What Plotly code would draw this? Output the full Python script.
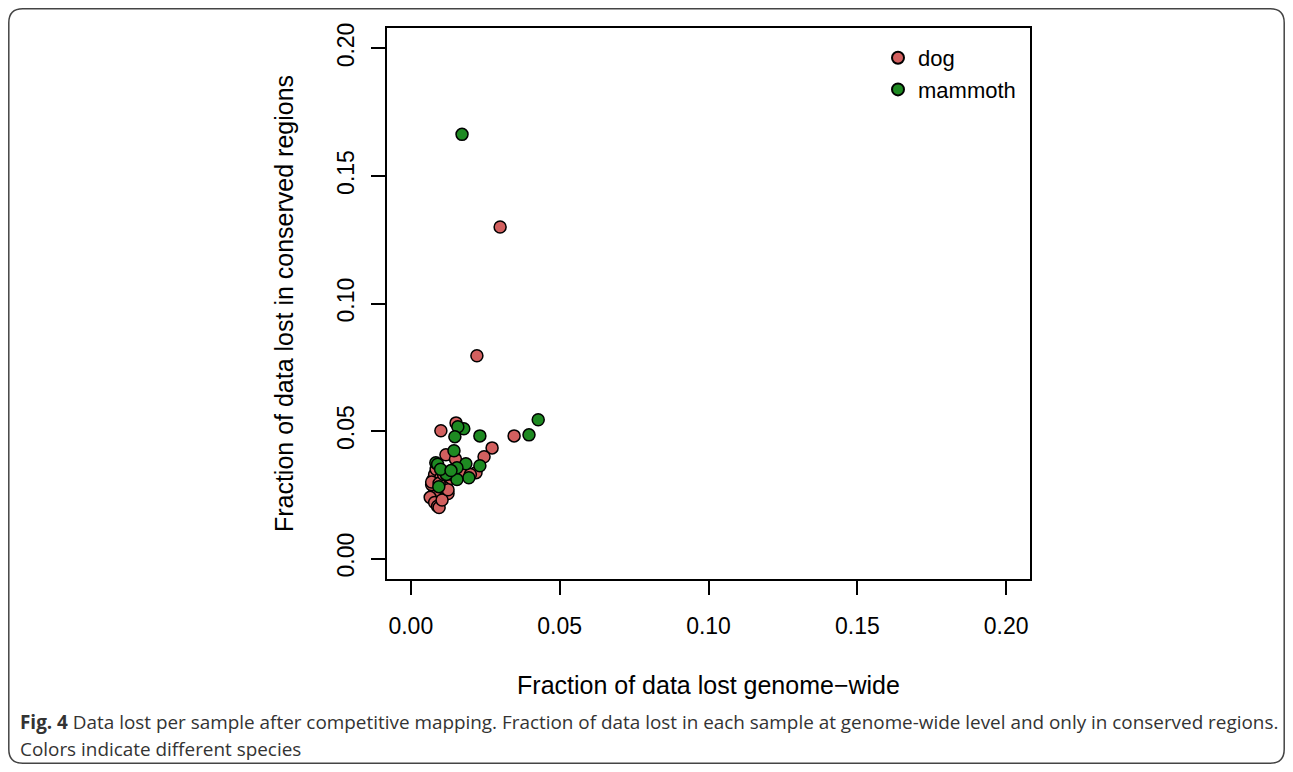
import plotly.graph_objects as go

# ---- data ----
dog_x = [0.0101, 0.0152, 0.0222, 0.0300, 0.0347, 0.0273, 0.0246, 0.0219, 0.0118, 0.0150,
         0.0160, 0.0130, 0.0120, 0.0110, 0.0125, 0.0100, 0.0090, 0.0080, 0.0070, 0.0075,
         0.0080, 0.0065, 0.0080, 0.0090, 0.0095, 0.0105, 0.0085, 0.0100, 0.0140, 0.0125,
         0.0070, 0.0095, 0.0110, 0.0180, 0.0200]
dog_y = [0.0501, 0.0532, 0.0795, 0.1300, 0.0481, 0.0434, 0.0399, 0.0337, 0.0407, 0.0390,
         0.0350, 0.0340, 0.0300, 0.0280, 0.0255, 0.0270, 0.0240, 0.0260, 0.0290, 0.0310,
         0.0330, 0.0240, 0.0220, 0.0205, 0.0200, 0.0230, 0.0350, 0.0315, 0.0330, 0.0270,
         0.0300, 0.0295, 0.0330, 0.0340, 0.0330]
mam_x = [0.0172, 0.0428, 0.0397, 0.0232, 0.0232, 0.0195, 0.0185, 0.0155, 0.0155, 0.0145,
         0.0178, 0.0158, 0.0148, 0.0084, 0.0118, 0.0094, 0.0090, 0.0120, 0.0100, 0.0135]
mam_y = [0.1663, 0.0544, 0.0485, 0.0481, 0.0364, 0.0317, 0.0372, 0.0310, 0.0356, 0.0423,
         0.0509, 0.0517, 0.0478, 0.0376, 0.0333, 0.0282, 0.0370, 0.0330, 0.0350, 0.0345]
tick_vals = [0.0, 0.05, 0.10, 0.15, 0.20]
tick_text = ["0.00", "0.05", "0.10", "0.15", "0.20"]

DOG = "#D2605F"
MAM = "#1E8A22"
OFF = 8  # page body margin
W, H = 1285, 764
# target screen pixels of the plot box
BL, BR, BT, BB = 387, 1030, 28, 579
ML, MR, MT, MB = BL - OFF, W - (BR - OFF), BT - OFF, H - (BB - OFF)


def px(x):
    return (x - OFF - ML) / (W - ML - MR)


def py(y):
    return (H - MB - (y - OFF)) / (H - MT - MB)


fig = go.Figure()
fig.add_trace(go.Scatter(x=dog_x, y=dog_y, mode="markers", name="dog",
                         marker=dict(color=DOG, size=12, line=dict(color="black", width=1.5))))
fig.add_trace(go.Scatter(x=mam_x, y=mam_y, mode="markers", name="mammoth",
                         marker=dict(color=MAM, size=12, line=dict(color="black", width=1.5))))

axis_common = dict(range=[-0.008, 0.208], showgrid=False, zeroline=False,
                   showline=True, linecolor="black", linewidth=1.5, mirror=True,
                   ticks="outside", ticklen=14, tickwidth=1.5, tickcolor="black",
                   tickvals=tick_vals, ticktext=tick_text,
                   tickfont=dict(family="Liberation Sans, Arial", size=23, color="black"))

fig.update_xaxes(**axis_common, ticklabelstandoff=12,
                 title=dict(text="Fraction of data lost genome\u2212wide", standoff=38,
                            font=dict(family="Liberation Sans, Arial", size=25, color="black")))
fig.update_yaxes(**axis_common, tickangle=-90, ticklabelstandoff=8,
                 title=dict(text="Fraction of data lost in conserved regions", standoff=32,
                            font=dict(family="Liberation Sans, Arial", size=25, color="black")))

# rounded card border
x0, x1 = px(8.8), px(1284.2)
y0, y1 = py(763.2), py(8.8)
rx = 14 / (W - ML - MR)
ry = 14 / (H - MT - MB)
path = (f"M {x0+rx},{y1} L {x1-rx},{y1} Q {x1},{y1} {x1},{y1-ry} "
        f"L {x1},{y0+ry} Q {x1},{y0} {x1-rx},{y0} L {x0+rx},{y0} "
        f"Q {x0},{y0} {x0},{y0+ry} L {x0},{y1-ry} Q {x0},{y1} {x0+rx},{y1} Z")
fig.add_shape(type="path", path=path, xref="paper", yref="paper",
              line=dict(color="#444444", width=1.5))

cap_font = dict(family="Open Sans", size=18.9, color="#333333")
fig.add_annotation(x=px(18), y=py(722), xref="paper", yref="paper", xanchor="left", yanchor="middle",
                   showarrow=False, font=cap_font,
                   text="<b>Fig. 4</b> Data lost per sample after competitive mapping. Fraction of data lost in each sample at genome-wide level and only in conserved regions.")
fig.add_annotation(x=px(18), y=py(749), xref="paper", yref="paper", xanchor="left", yanchor="middle",
                   showarrow=False, font=cap_font,
                   text="Colors indicate different species")

fig.update_layout(
    width=W, height=H,
    margin=dict(l=ML, r=MR, t=MT, b=MB),
    paper_bgcolor="white", plot_bgcolor="white",
    showlegend=True,
    legend=dict(x=px(878), y=py(37), xanchor="left", yanchor="top",
                bgcolor="rgba(0,0,0,0)", itemsizing="constant",
                font=dict(family="Liberation Sans, Arial", size=22, color="black"),
                tracegroupgap=0),
)

fig.write_html("out.html")
